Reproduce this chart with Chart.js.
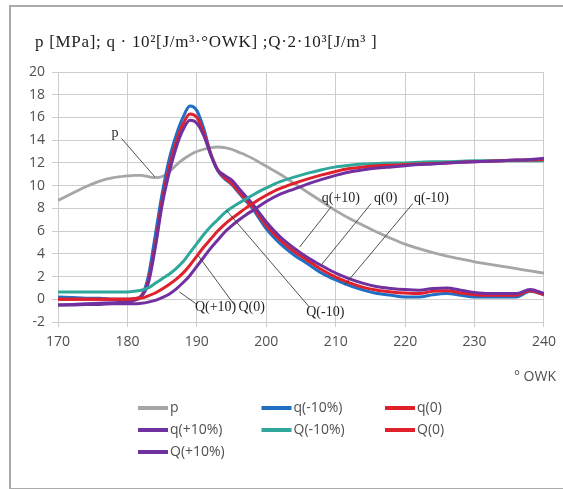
<!DOCTYPE html>
<html><head><meta charset="utf-8">
<script src="https://cdn.jsdelivr.net/npm/chart.js@4/dist/chart.umd.min.js"></script>
<style>
html,body{margin:0;padding:0;background:#fff;overflow:hidden;}
#frame{position:absolute;left:9px;top:5px;width:600px;height:481px;border:2px solid #ababab;border-right:none;}
#c{position:absolute;left:0;top:0;}
</style></head><body>
<div id="frame"></div>
<canvas id="c" width="563" height="489"></canvas>
<script>
// ---- data (crank angle in °OWK) ----
const angles = [170,172,174,176,178,180,181,182,183,184,185,186,187,188,189,190,191,192,193,194,195,196,197,198,199,200,
  202,204,206,208,210,212,214,216,218,220,222,224,226,228,230,232,234,236,238,240];
const p = [8.7,9.3,9.9,10.4,10.7,10.85,10.9,10.9,10.8,10.7,10.8,11.2,11.8,12.3,12.7,13.0,13.2,13.35,13.4,13.35,13.2,12.95,12.7,12.4,12.05,11.7,
  11.0,10.2,9.4,8.6,7.8,7.1,6.5,5.9,5.35,4.85,4.45,4.1,3.8,3.55,3.3,3.1,2.9,2.7,2.5,2.3];
const qMinus10 = [0.2,0.15,0.1,0.1,0.0,0.0,0.05,0.3,2.0,5.6,9.3,12.3,14.4,16.0,17.0,16.6,15.0,12.8,11.3,10.6,10.1,9.4,8.7,8.0,7.1,6.2,
  4.9,3.9,3.1,2.3,1.7,1.2,0.8,0.5,0.35,0.2,0.2,0.4,0.5,0.35,0.2,0.2,0.2,0.2,0.7,0.4];
const q0 = [0.0,0.0,0.0,0.0,0.0,0.0,0.05,0.3,1.6,4.8,8.7,11.6,13.8,15.4,16.3,16.0,14.7,12.8,11.4,10.7,10.2,9.5,8.8,8.2,7.3,6.5,
  5.2,4.2,3.4,2.6,1.95,1.45,1.05,0.8,0.65,0.55,0.5,0.7,0.75,0.55,0.4,0.35,0.35,0.35,0.75,0.4];
const qPlus10 = [-0.5,-0.45,-0.4,-0.35,-0.3,-0.25,-0.1,0.2,1.4,4.5,8.3,11.1,13.3,14.9,15.75,15.5,14.4,12.7,11.4,10.9,10.5,9.8,9.1,8.4,7.6,6.8,
  5.5,4.5,3.65,2.95,2.3,1.8,1.4,1.1,0.95,0.85,0.8,0.95,1.0,0.8,0.6,0.5,0.5,0.5,0.85,0.5];
const QMinus10 = [0.65,0.65,0.65,0.65,0.65,0.65,0.7,0.8,1.0,1.4,1.8,2.2,2.7,3.3,4.1,4.9,5.7,6.4,7.0,7.6,8.05,8.45,8.8,9.15,9.5,9.8,
  10.35,10.75,11.1,11.4,11.65,11.8,11.9,11.95,12.0,12.0,12.05,12.1,12.1,12.15,12.2,12.2,12.2,12.2,12.2,12.2];
const Q0 = [0.0,0.0,0.0,0.0,0.0,0.0,0.05,0.1,0.3,0.55,0.9,1.3,1.75,2.3,3.0,3.8,4.6,5.3,6.0,6.6,7.1,7.55,8.0,8.4,8.8,9.15,
  9.75,10.2,10.6,10.95,11.25,11.5,11.65,11.75,11.8,11.85,11.9,11.95,12.0,12.05,12.1,12.15,12.2,12.25,12.25,12.3];
const QPlus10 = [-0.5,-0.5,-0.45,-0.45,-0.4,-0.4,-0.4,-0.35,-0.25,-0.1,0.15,0.45,0.9,1.45,2.1,2.9,3.7,4.5,5.2,5.9,6.45,6.95,7.4,7.8,8.2,8.6,
  9.25,9.7,10.15,10.55,10.9,11.2,11.4,11.55,11.65,11.75,11.85,11.9,12.0,12.05,12.1,12.15,12.2,12.25,12.3,12.4];

const seriesNames = ['p','q(-10%)','q(0)','q(+10%)','Q(-10%)','Q(0)','Q(+10%)'];
const xTickValues = [170,180,190,200,210,220,230,240];
const yTickValues = [-2,0,2,4,6,8,10,12,14,16,18,20];
const titleText = 'p [MPa]; q · 10²[J/m³·°OWK] ;Q·2·10³[J/m³ ]';
const xUnitText = '° OWK';
// callout labels (data coordinates: [angle, value])
const callouts = [
  {text:'p',      at:[178.2,14.6],  from:[179.15,14.15], to:[183.95,10.77]},
  {text:'Q(+10)', at:[192.7,-0.7],  from:[187.5,0.64],   to:[189.84,-0.38]},
  {text:'Q(0)',   at:[197.9,-0.7],  from:[190.17,3.87],  to:[195.44,-0.53]},
  {text:'Q(-10)', at:[208.5,-1.14], from:[194.25,7.83],  to:[206.2,-0.68]},
  {text:'q(+10)', at:[210.75,8.9],  from:[209.35,8.13],  to:[204.8,4.6]},
  {text:'q(0)',   at:[217.2,8.9],   from:[215.1,8.42],   to:[207.9,3.0]},
  {text:'q(-10)', at:[223.8,8.9],   from:[221.1,8.42],   to:[211.25,1.23]}
];

// ---- styles ----
const seriesValues = [p,qMinus10,q0,qPlus10,QMinus10,Q0,QPlus10];
const colors = ['#a6a6a6','#1f6fc4','#e0212c','#7030a0','#2fa89b','#e0212c','#7030a0'];
const widths = [2.8,3,3,3,3,3,3];
const SANS = '"Open Sans", "Liberation Sans", sans-serif';
const SERIF = '"Liberation Serif", serif';
const TEXT = '#505050';
const GRID = '#cdcdcd';

const datasets = seriesNames.map((name,i)=>({
  label:name,
  data: angles.map((a,k)=>({x:a,y:seriesValues[i][k]})),
  borderColor:colors[i], backgroundColor:colors[i],
  borderWidth:widths[i], pointRadius:0, fill:false,
  cubicInterpolationMode:'monotone', order:-i
}));

const decor = {
  id:'decor',
  afterDatasetsDraw(chart){
    const {ctx, scales:{x,y}} = chart;
    ctx.save();
    callouts.forEach(c=>{
      ctx.strokeStyle='#3c3c3c'; ctx.lineWidth=0.9;
      ctx.beginPath();
      ctx.moveTo(x.getPixelForValue(c.from[0]), y.getPixelForValue(c.from[1]));
      ctx.lineTo(x.getPixelForValue(c.to[0]), y.getPixelForValue(c.to[1]));
      ctx.stroke();
      ctx.fillStyle='#1e1e1e'; ctx.font='14px '+SERIF;
      ctx.textAlign='center'; ctx.textBaseline='middle';
      ctx.fillText(c.text, x.getPixelForValue(c.at[0]), y.getPixelForValue(c.at[1]));
    });
    ctx.restore();
  },
  afterDraw(chart){
    const {ctx, chartArea:ca} = chart;
    ctx.save();
    // title
    ctx.fillStyle='#1e1e1e'; ctx.font='17px '+SERIF;
    ctx.textAlign='left'; ctx.textBaseline='middle';
    try { ctx.letterSpacing='0.7px'; } catch(e) {}
    ctx.fillText(titleText, ca.left-23, ca.top-29);
    try { ctx.letterSpacing='0px'; } catch(e) {}
    // x unit
    ctx.fillStyle=TEXT; ctx.font='14px '+SANS; ctx.textAlign='right';
    ctx.fillText(xUnitText, ca.right+12, ca.bottom+55);
    // legend
    seriesNames.forEach((name,i)=>{
      const col=i%3, row=Math.floor(i/3);
      const lx = ca.left+80+col*123.5, ly = ca.bottom+86+row*22;
      ctx.strokeStyle=colors[i]; ctx.lineWidth=4; ctx.lineCap='butt';
      ctx.beginPath(); ctx.moveTo(lx,ly); ctx.lineTo(lx+30,ly); ctx.stroke();
      ctx.fillStyle=TEXT; ctx.font='14px '+SANS; ctx.textAlign='left'; ctx.textBaseline='middle';
      ctx.fillText(name, lx+32, ly);
    });
    ctx.restore();
  }
};

new Chart(document.getElementById('c'), {
  type:'line',
  data:{datasets},
  options:{
    responsive:false, animation:false, devicePixelRatio:1,
    layout:{padding:{left:10,top:72,right:18,bottom:127}},
    plugins:{legend:{display:false}, tooltip:{enabled:false}, title:{display:false}},
    scales:{
      x:{type:'linear', min:170, max:240,
        afterBuildTicks:s=>{s.ticks=xTickValues.map(v=>({value:v}));},
        afterFit:s=>{s.height=40;},
        grid:{color:GRID, lineWidth:1, tickLength:5, drawTicks:true},
        border:{color:GRID},
        ticks:{color:TEXT, font:{family:SANS,size:14}, padding:7, maxRotation:0}},
      y:{type:'linear', min:-2, max:20,
        afterBuildTicks:s=>{s.ticks=yTickValues.map(v=>({value:v}));},
        afterFit:s=>{s.width=48;},
        grid:{color:GRID, lineWidth:1, tickLength:6},
        border:{color:GRID},
        ticks:{color:TEXT, font:{family:SANS,size:14}, padding:7}}
    }
  },
  plugins:[decor]
});
</script>
</body></html>
